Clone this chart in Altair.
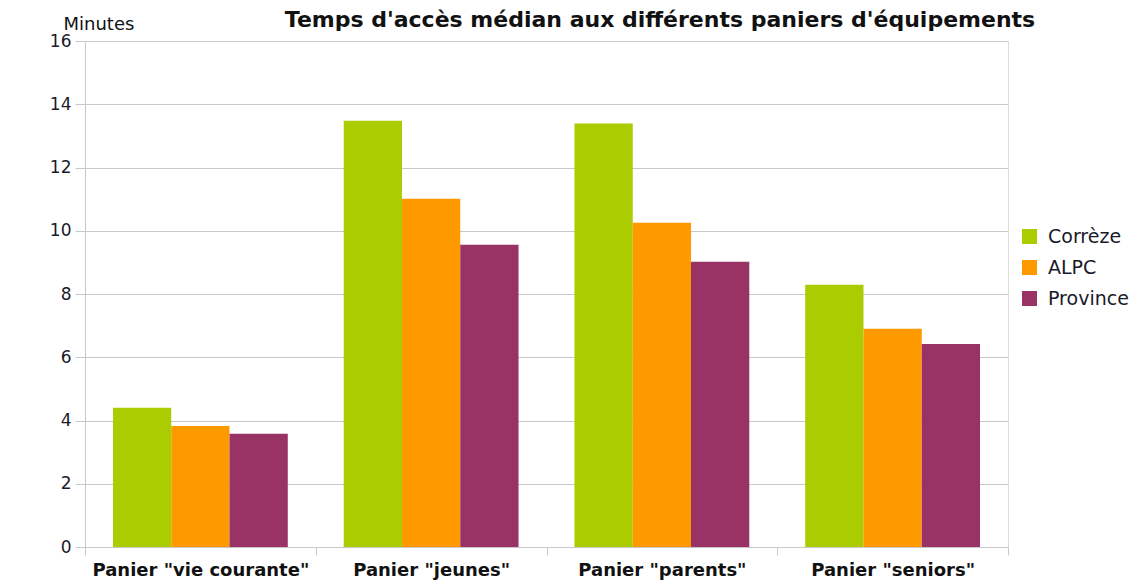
import altair as alt
import pandas as pd

title_text = ["Temps d'accès médian aux différents paniers d'équipements"]
categories = ['Panier "vie courante"', 'Panier "jeunes"', 'Panier "parents"', 'Panier "seniors"']
series = ["Corrèze", "ALPC", "Province"]
correze = [4.40, 13.48, 13.39, 8.29]
alpc = [3.83, 11.01, 10.25, 6.90]
province = [3.58, 9.56, 9.02, 6.42]
colors = ["#aacc00", "#ff9900", "#993366"]
y_ticks = [0, 2, 4, 6, 8, 10, 12, 14, 16]

rows = []
for s, vals in zip(series, [correze, alpc, province]):
    for c, v in zip(categories, vals):
        rows.append({"cat": c, "serie": s, "val": v})
df = pd.DataFrame(rows)
title_df = pd.DataFrame({"t": title_text})

FONT = "DejaVu Sans"
GRID = "#c8c8c8"

bars = alt.Chart(df).mark_bar().encode(
    x=alt.X("cat:N", sort=categories,
            scale=alt.Scale(paddingInner=0, paddingOuter=0),
            axis=alt.Axis(title=None, labelAngle=0, labelFont=FONT, labelFontSize=18,
                          labelFontWeight="bold", labelColor="#111111", labelPadding=6,
                          labelLimit=400,
                          tickBand="extent", tickSize=8, tickColor=GRID, domainColor=GRID,
                          grid=False)),
    xOffset=alt.XOffset("serie:N", sort=series,
                        scale=alt.Scale(paddingInner=0, paddingOuter=0.48)),
    y=alt.Y("val:Q", scale=alt.Scale(domain=[0, 16], nice=False),
            axis=alt.Axis(values=y_ticks, title="Minutes", titleAngle=0, titleAlign="left",
                          titleBaseline="alphabetic", titleX=-22, titleY=-12,
                          titleFont=FONT, titleFontSize=18, titleFontWeight="normal",
                          titleColor="#111111",
                          labelFont=FONT, labelFontSize=17, labelColor="#1a1a2a",
                          labelPadding=4, tickSize=10, tickColor=GRID, domainColor=GRID,
                          gridColor=GRID)),
    color=alt.Color("serie:N", sort=series,
                    scale=alt.Scale(domain=series, range=colors),
                    legend=alt.Legend(title=None, orient="none", legendX=935, legendY=186,
                                      symbolType="square", symbolSize=225,
                                      symbolStrokeWidth=0,
                                      labelFont=FONT, labelFontSize=19, labelColor="#1a1a2a",
                                      rowPadding=11, labelOffset=9)),
)

title = alt.Chart(title_df).mark_text(
    font=FONT, fontSize=22, fontWeight="bold", color="#111111",
    align="center", baseline="alphabetic"
).encode(text="t:N", x=alt.value(575), y=alt.value(-14))

chart = alt.layer(bars, title).properties(
    width=923, height=506,
    autosize=alt.AutoSizeParams(type="none"),
    padding={"left": 77, "top": 33, "right": 125, "bottom": 37},
).configure_view(stroke=GRID).configure(background="white")

chart.save("out.html", embed_options={"renderer": "svg", "actions": False})
